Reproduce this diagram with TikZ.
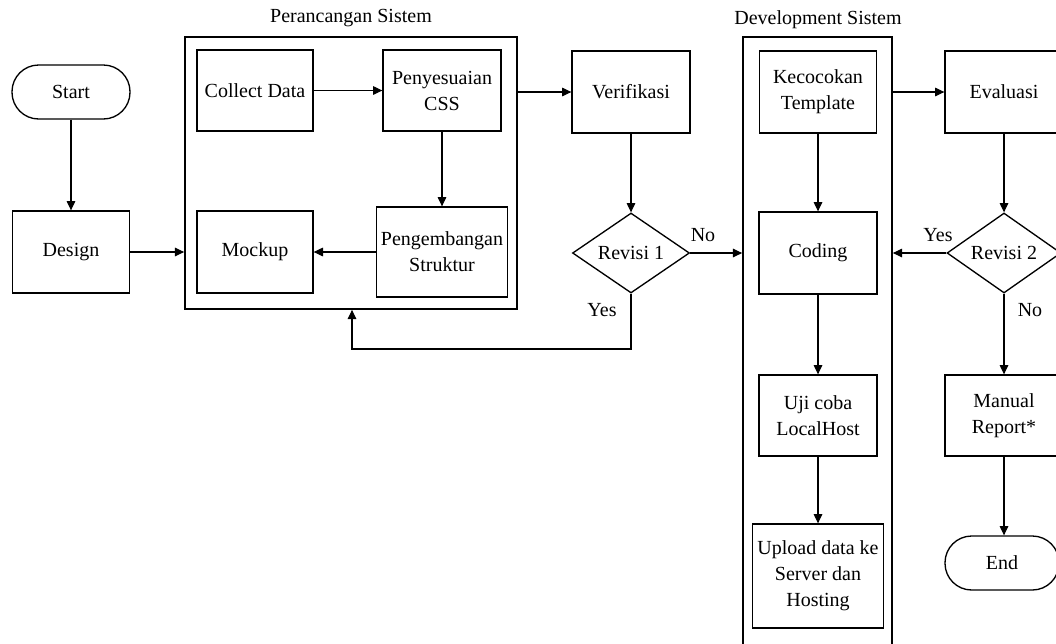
\documentclass[tikz,border=0pt]{standalone}
\usepackage{fontspec}
\setmainfont{Liberation Serif}
\usetikzlibrary{shapes.geometric,arrows.meta}
\begin{document}
\begin{tikzpicture}[x=0.75pt,y=-0.75pt,
  every node/.style={font=\fontsize{15}{19.5}\selectfont, align=center},
  box/.style={draw, line width=1pt, inner sep=2pt},
  term/.style={draw, line width=1pt, rounded corners=20pt, inner sep=2pt},
  dec/.style={draw, diamond, line width=1pt, inner sep=0pt},
  group/.style={draw, line width=1.3pt, inner sep=0pt},
  lbl/.style={inner sep=0pt},
  arr/.style={line width=0.8pt, -{Triangle[length=7pt,width=6.5pt]}},
  ln/.style={line width=0.8pt}]
\useasboundingbox (0,0) rectangle (1056,643);
\clip (0,0) rectangle (1056,643);
\fill[white] (0,0) rectangle (1056,643);

% group boxes
\node[group, minimum width=249pt, minimum height=204pt] (P) at (351,173) {};
\node[lbl] (Pt) at (351,18) {Perancangan Sistem};
\node[group, minimum width=111.75pt, minimum height=467pt] (D) at (817.5,348) {};
\node[lbl] (Dt) at (818,20) {Development Sistem};

% nodes
\node[term, minimum width=88.5pt, minimum height=40.5pt] (start) at (71,92) {Start};
\node[box, minimum width=87.75pt, minimum height=61.5pt] (design) at (71,252) {Design};
\node[box, minimum width=87pt, minimum height=60.75pt] (collect) at (255,90.5) {Collect Data};
\node[box, minimum width=88.5pt, minimum height=60.75pt] (css) at (442,90.5) {Penyesuaian\\CSS};
\node[box, minimum width=87pt, minimum height=61.5pt] (mock) at (255,252) {Mockup};
\node[box, minimum width=98.25pt, minimum height=67.5pt] (struk) at (442,252) {Pengembangan\\Struktur};
\node[box, minimum width=88.5pt, minimum height=61.5pt] (verif) at (631,92) {Verifikasi};
\node[dec, minimum width=87.75pt, minimum height=60pt] (rev1) at (631,253) {Revisi 1};

\node[box, minimum width=87.75pt, minimum height=61.5pt] (kec) at (818,92) {Kecocokan\\Template};
\node[box, minimum width=88.5pt, minimum height=61.5pt] (cod) at (818,253) {Coding};
\node[box, minimum width=88.5pt, minimum height=60.75pt] (uji) at (818,415.5) {Uji coba\\LocalHost};
\node[box, minimum width=98.25pt, minimum height=78pt] (upl) at (818,576) {Upload data ke\\Server dan\\Hosting};

\node[box, minimum width=88.5pt, minimum height=61.5pt] (eval) at (1004,92) {Evaluasi};
\node[dec, minimum width=85.5pt, minimum height=60pt] (rev2) at (1004,253) {Revisi 2};
\node[box, minimum width=88.5pt, minimum height=60.75pt] (man) at (1004,415.5) {Manual\\Report*};
\node[term, minimum width=85.5pt, minimum height=40.5pt] (end) at (1002,563) {End};

% labels
\node[lbl] (no1) at (703,235) {No};
\node[lbl] (yes1) at (602,310) {Yes};
\node[lbl] (yes2) at (938,235) {Yes};
\node[lbl] (no2) at (1030,310) {No};

% connectors
\draw[arr] (start) -- (design);
\draw[arr] (design.east) -- (design.east -| P.west);
\draw[arr] (collect) -- (css);
\draw[arr] (css) -- (struk);
\draw[arr] (struk) -- (mock);
\draw[arr] (P.east |- verif.west) -- (verif.west);
\draw[arr] (verif) -- (rev1);
\draw[arr] (rev1.east) -- (rev1.east -| D.west);
\coordinate (yb) at (352,349);
\draw[arr] (rev1.south) |- (yb) -- (yb |- P.south);

\draw[arr] (D.east |- eval.west) -- (eval.west);
\draw[arr] (kec) -- (cod);
\draw[arr] (cod) -- (uji);
\draw[arr] (uji) -- (upl);
\draw[arr] (eval) -- (rev2);
\draw[arr] (rev2.west) -- (rev2.west -| D.east);
\draw[arr] (rev2) -- (man);
\draw[arr] (man.south) -- (man.south |- end.north);
\end{tikzpicture}
\end{document}
